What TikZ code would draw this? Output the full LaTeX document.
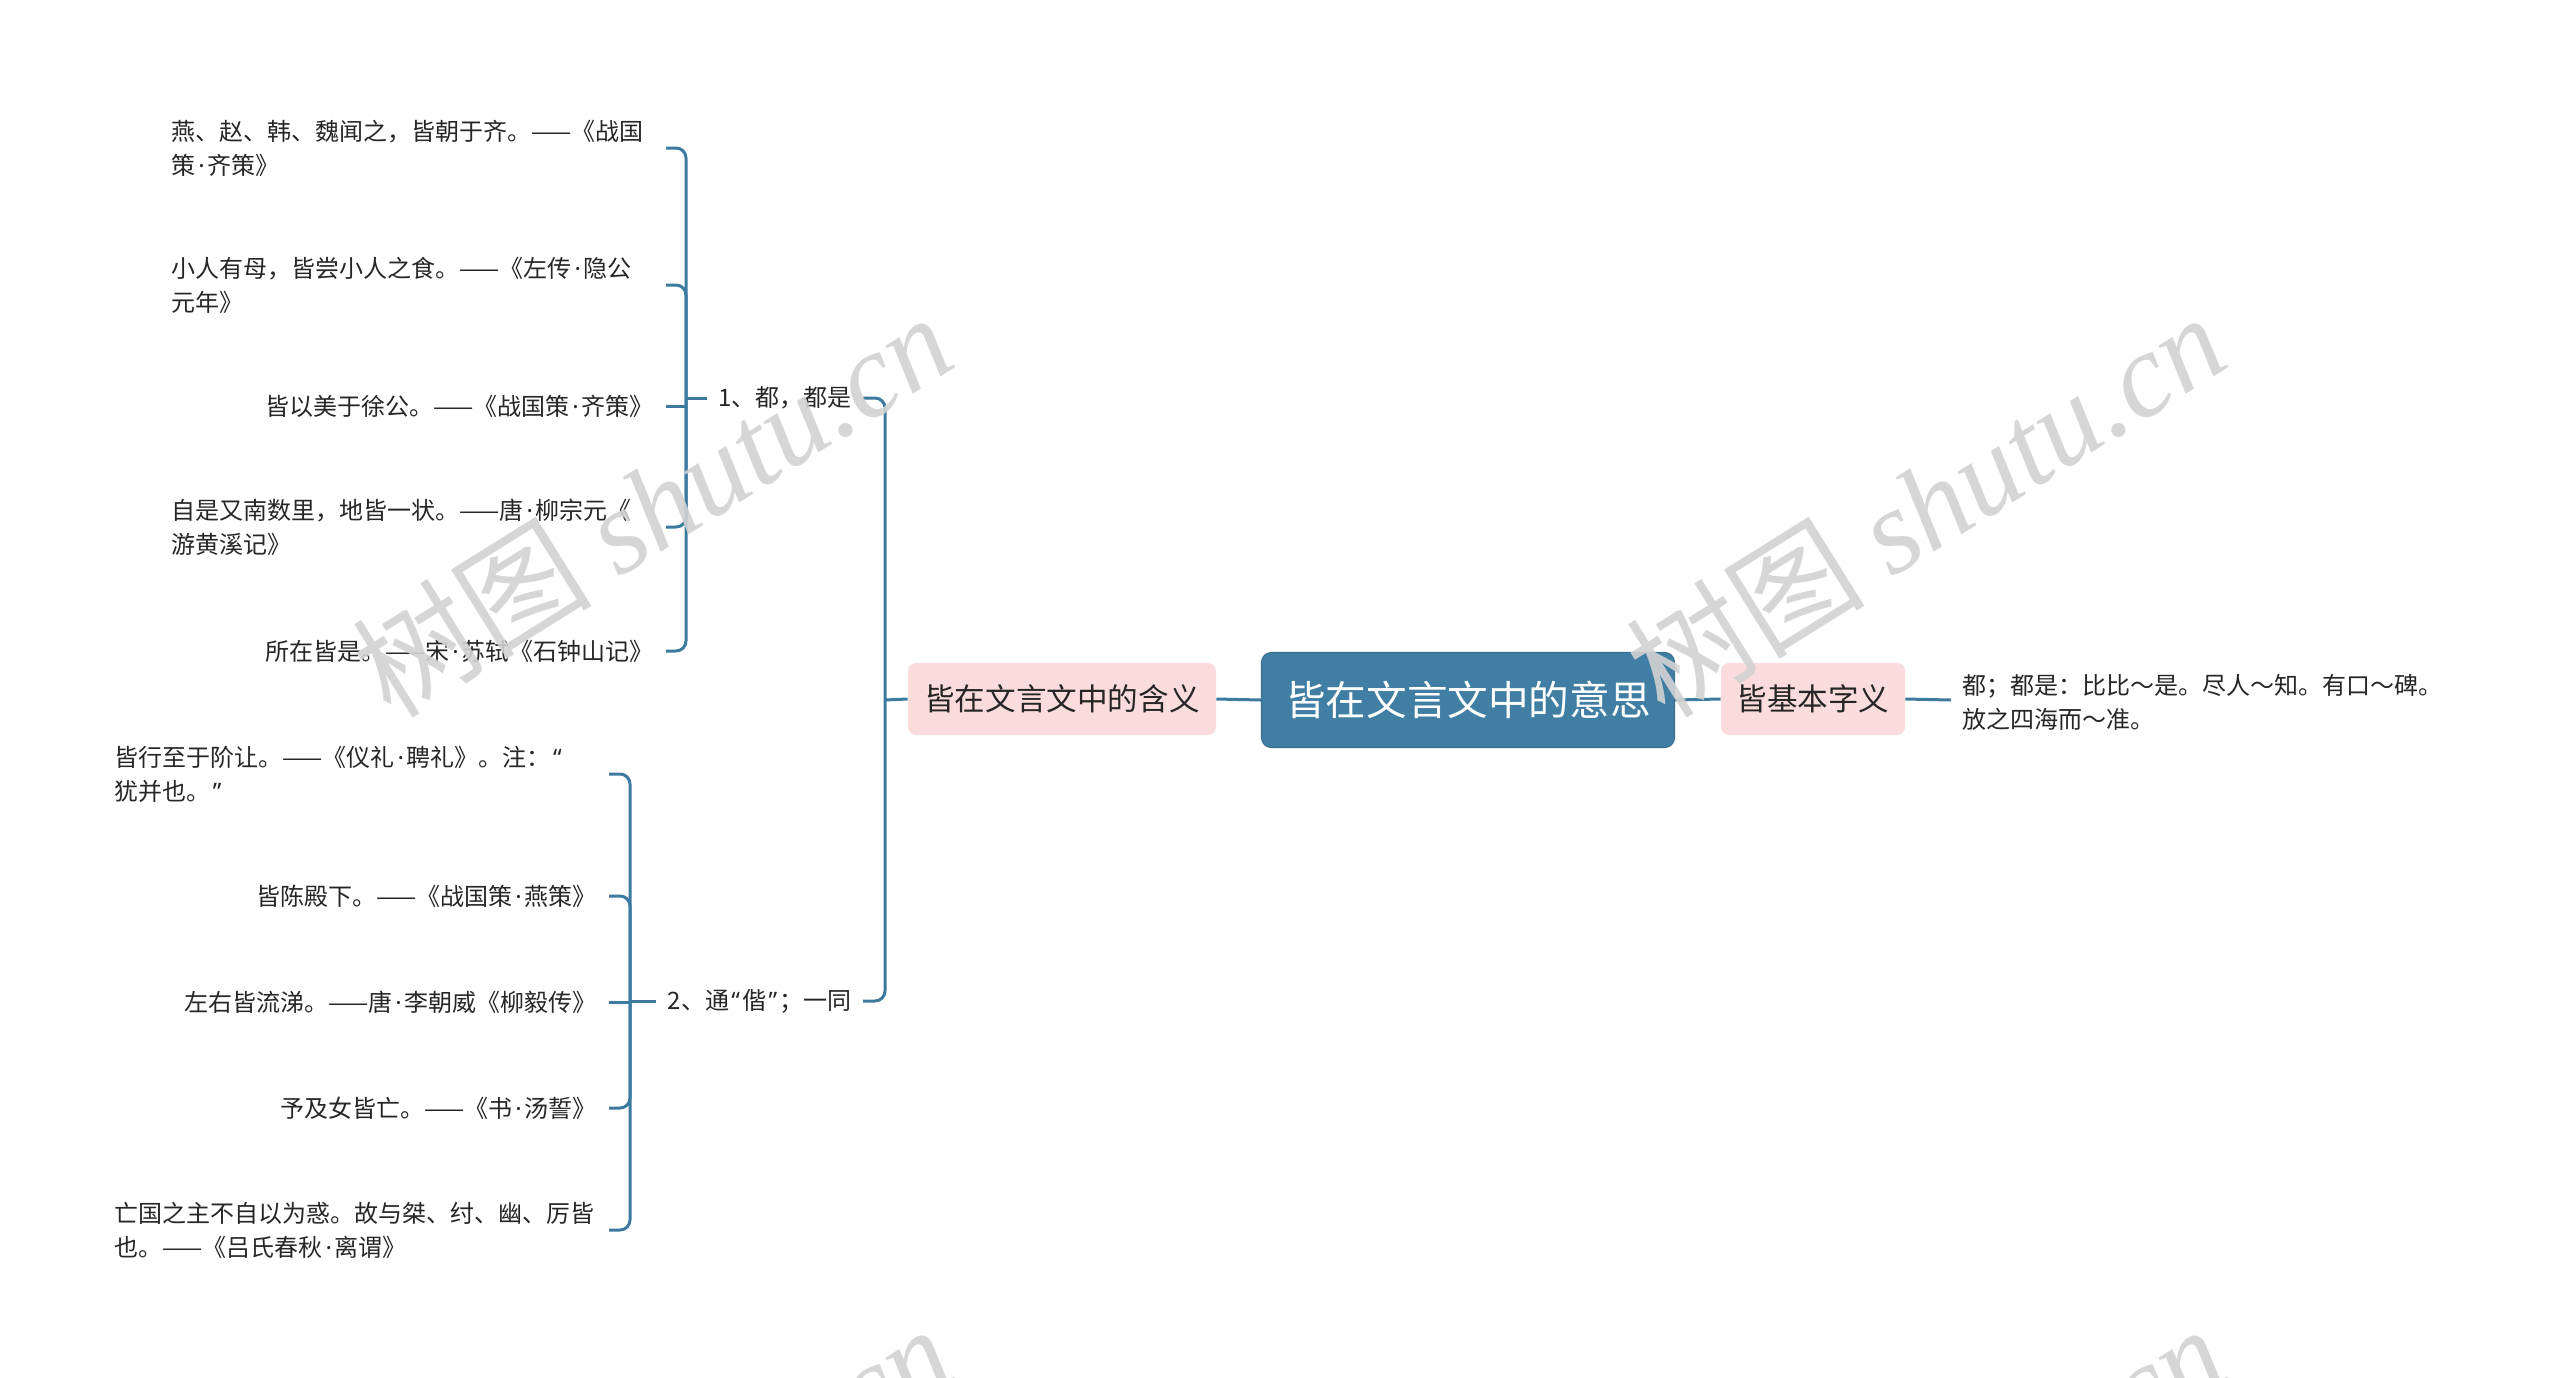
\documentclass[tikz,border=0pt]{standalone}
\usepackage{fontspec}
\setmainfont{Noto Sans CJK SC}
\newfontfamily\wmcjk{Noto Sans CJK SC}
\newfontfamily\wmlat{Liberation Serif}
\newfontfamily\latf{Noto Sans}
\newcommand\cdotx{\makebox[0.5em]{\latf ·}}
\newcommand\qopen{\makebox[0.55em][c]{\latf “}}
\newcommand\qclose{\makebox[0.55em][c]{\latf ”}}
\definecolor{linec}{HTML}{3D7AA0}
\definecolor{rootc}{HTML}{407EA3}
\definecolor{pinkc}{HTML}{FBDCDC}
\definecolor{txtc}{HTML}{262626}
\definecolor{wmc}{HTML}{D2D2D2}
\begin{document}
\begin{tikzpicture}[x=0.5pt,y=-0.5pt,
  conn/.style={draw=linec,line width=1.5pt},
  rootbox/.style={fill=rootc,draw=rootc!90!black,line width=0.6pt,rounded corners=5pt,text=white,font=\fontsize{20.3pt}{24pt}\selectfont,minimum width=206.5pt,minimum height=47.5pt,inner sep=0pt},
  subbox/.style={fill=pinkc,rounded corners=4pt,text=txtc,font=\fontsize{15.3pt}{18pt}\selectfont,minimum height=36pt,inner sep=0pt},
  leafL/.style={text=txtc,font=\fontsize{12pt}{17pt}\selectfont,text width=241pt,align=left,inner xsep=6pt,inner ysep=0pt,anchor=east},
  leafR/.style={leafL,align=right},
  lbl/.style={text=txtc,font=\fontsize{12pt}{17pt}\selectfont,inner xsep=5.5pt,inner ysep=0pt},
  wm/.style={text=wmc,text opacity=0.9,rotate=32,inner sep=0pt,font=\fontsize{60pt}{62pt}\selectfont}
]
\useasboundingbox (0,0) rectangle (2560,1377);

% main nodes
\node[rootbox] (root) at (1468,700) {皆在文言文中的意思};
\node[subbox,minimum width=154pt] (m1) at (1062,699) {皆在文言文中的含义};
\node[subbox,minimum width=92pt] (m2) at (1813,699) {皆基本字义};
\node[text=txtc,font=\fontsize{12pt}{17pt}\selectfont,align=left,inner xsep=5.5pt,inner ysep=0pt,anchor=west] (rr) at (1951,702) {都；都是：比比～是。尽人～知。有口～碑。\\放之四海而～准。};

% labels
\node[lbl,anchor=east] (k1) at (863,398) {1、都，都是};
\node[lbl,anchor=east] (k2) at (863,1001) {2、通\qopen 偕\qclose ；一同};

% group 1 leaves
\node[leafL] (L1) at (666,148) {燕、赵、韩、魏闻之，皆朝于齐。——《战国\\策\cdotx 齐策》};
\node[leafL] (L2) at (666,285) {小人有母，皆尝小人之食。——《左传\cdotx 隐公\\元年》};
\node[leafR] (L3) at (666,406) {皆以美于徐公。——《战国策\cdotx 齐策》};
\node[leafL] (L4) at (666,527) {自是又南数里，地皆一状。——唐\cdotx 柳宗元《\\游黄溪记》};
\node[leafR] (L5) at (666,651) {所在皆是。——宋\cdotx 苏轼《石钟山记》};

% group 2 leaves
\node[leafL] (M1) at (609,774) {皆行至于阶让。——《仪礼\cdotx 聘礼》。注：\qopen\\犹并也。\qclose};
\node[leafR] (M2) at (609,896) {皆陈殿下。——《战国策\cdotx 燕策》};
\node[leafR] (M3) at (609,1002) {左右皆流涕。——唐\cdotx 李朝威《柳毅传》};
\node[leafR] (M4) at (609,1108) {予及女皆亡。——《书\cdotx 汤誓》};
\node[leafL] (M5) at (609,1230) {亡国之主不自以为惑。故与桀、纣、幽、厉皆\\也。——《吕氏春秋\cdotx 离谓》};

% junction points
\coordinate (b1) at (686,398);
\coordinate (b2) at (885,700);
\coordinate (b3) at (630,1001);
\coordinate (rrend) at (1951,700);

% connectors
\draw[conn] (root.west) -- (m1.east);
\draw[conn] (root.east) -- (m2.west);
\draw[conn] (m2.east) -- (rrend);

\draw[conn,rounded corners=5pt] (k1.east) -| (b2);
\draw[conn,rounded corners=5pt] (k2.east) -| (b2);
\draw[conn] (m1.west) -- (b2);

\draw[conn,rounded corners=5pt] (L1.east) -| (b1);
\draw[conn,rounded corners=5pt] (L2.east) -| (b1);
\draw[conn] (L3.east) -- (L3.east -| b1);
\draw[conn,rounded corners=5pt] (L4.east) -| (b1);
\draw[conn,rounded corners=5pt] (L5.east) -| (b1);
\draw[conn] (b1) -- (k1.west);

\draw[conn,rounded corners=5pt] (M1.east) -| (b3);
\draw[conn,rounded corners=5pt] (M2.east) -| (b3);
\draw[conn] (M3.east) -- (M3.east -| b3);
\draw[conn,rounded corners=5pt] (M4.east) -| (b3);
\draw[conn,rounded corners=5pt] (M5.east) -| (b3);
\draw[conn] (b3) -- (k2.west);

% watermarks
\begin{scope}
\clip (0,0) rectangle (2560,1377);
\node[wm] (wm1) at (652,504) {{\wmcjk 树图} {\wmlat\itshape shutu.cn}};
\node[wm] (wm2) at (1925,504) {{\wmcjk 树图} {\wmlat\itshape shutu.cn}};
\node[wm] (wm3) at (652,1516) {{\wmcjk 树图} {\wmlat\itshape shutu.cn}};
\node[wm] (wm4) at (1925,1516) {{\wmcjk 树图} {\wmlat\itshape shutu.cn}};
\end{scope}
\end{tikzpicture}
\end{document}
